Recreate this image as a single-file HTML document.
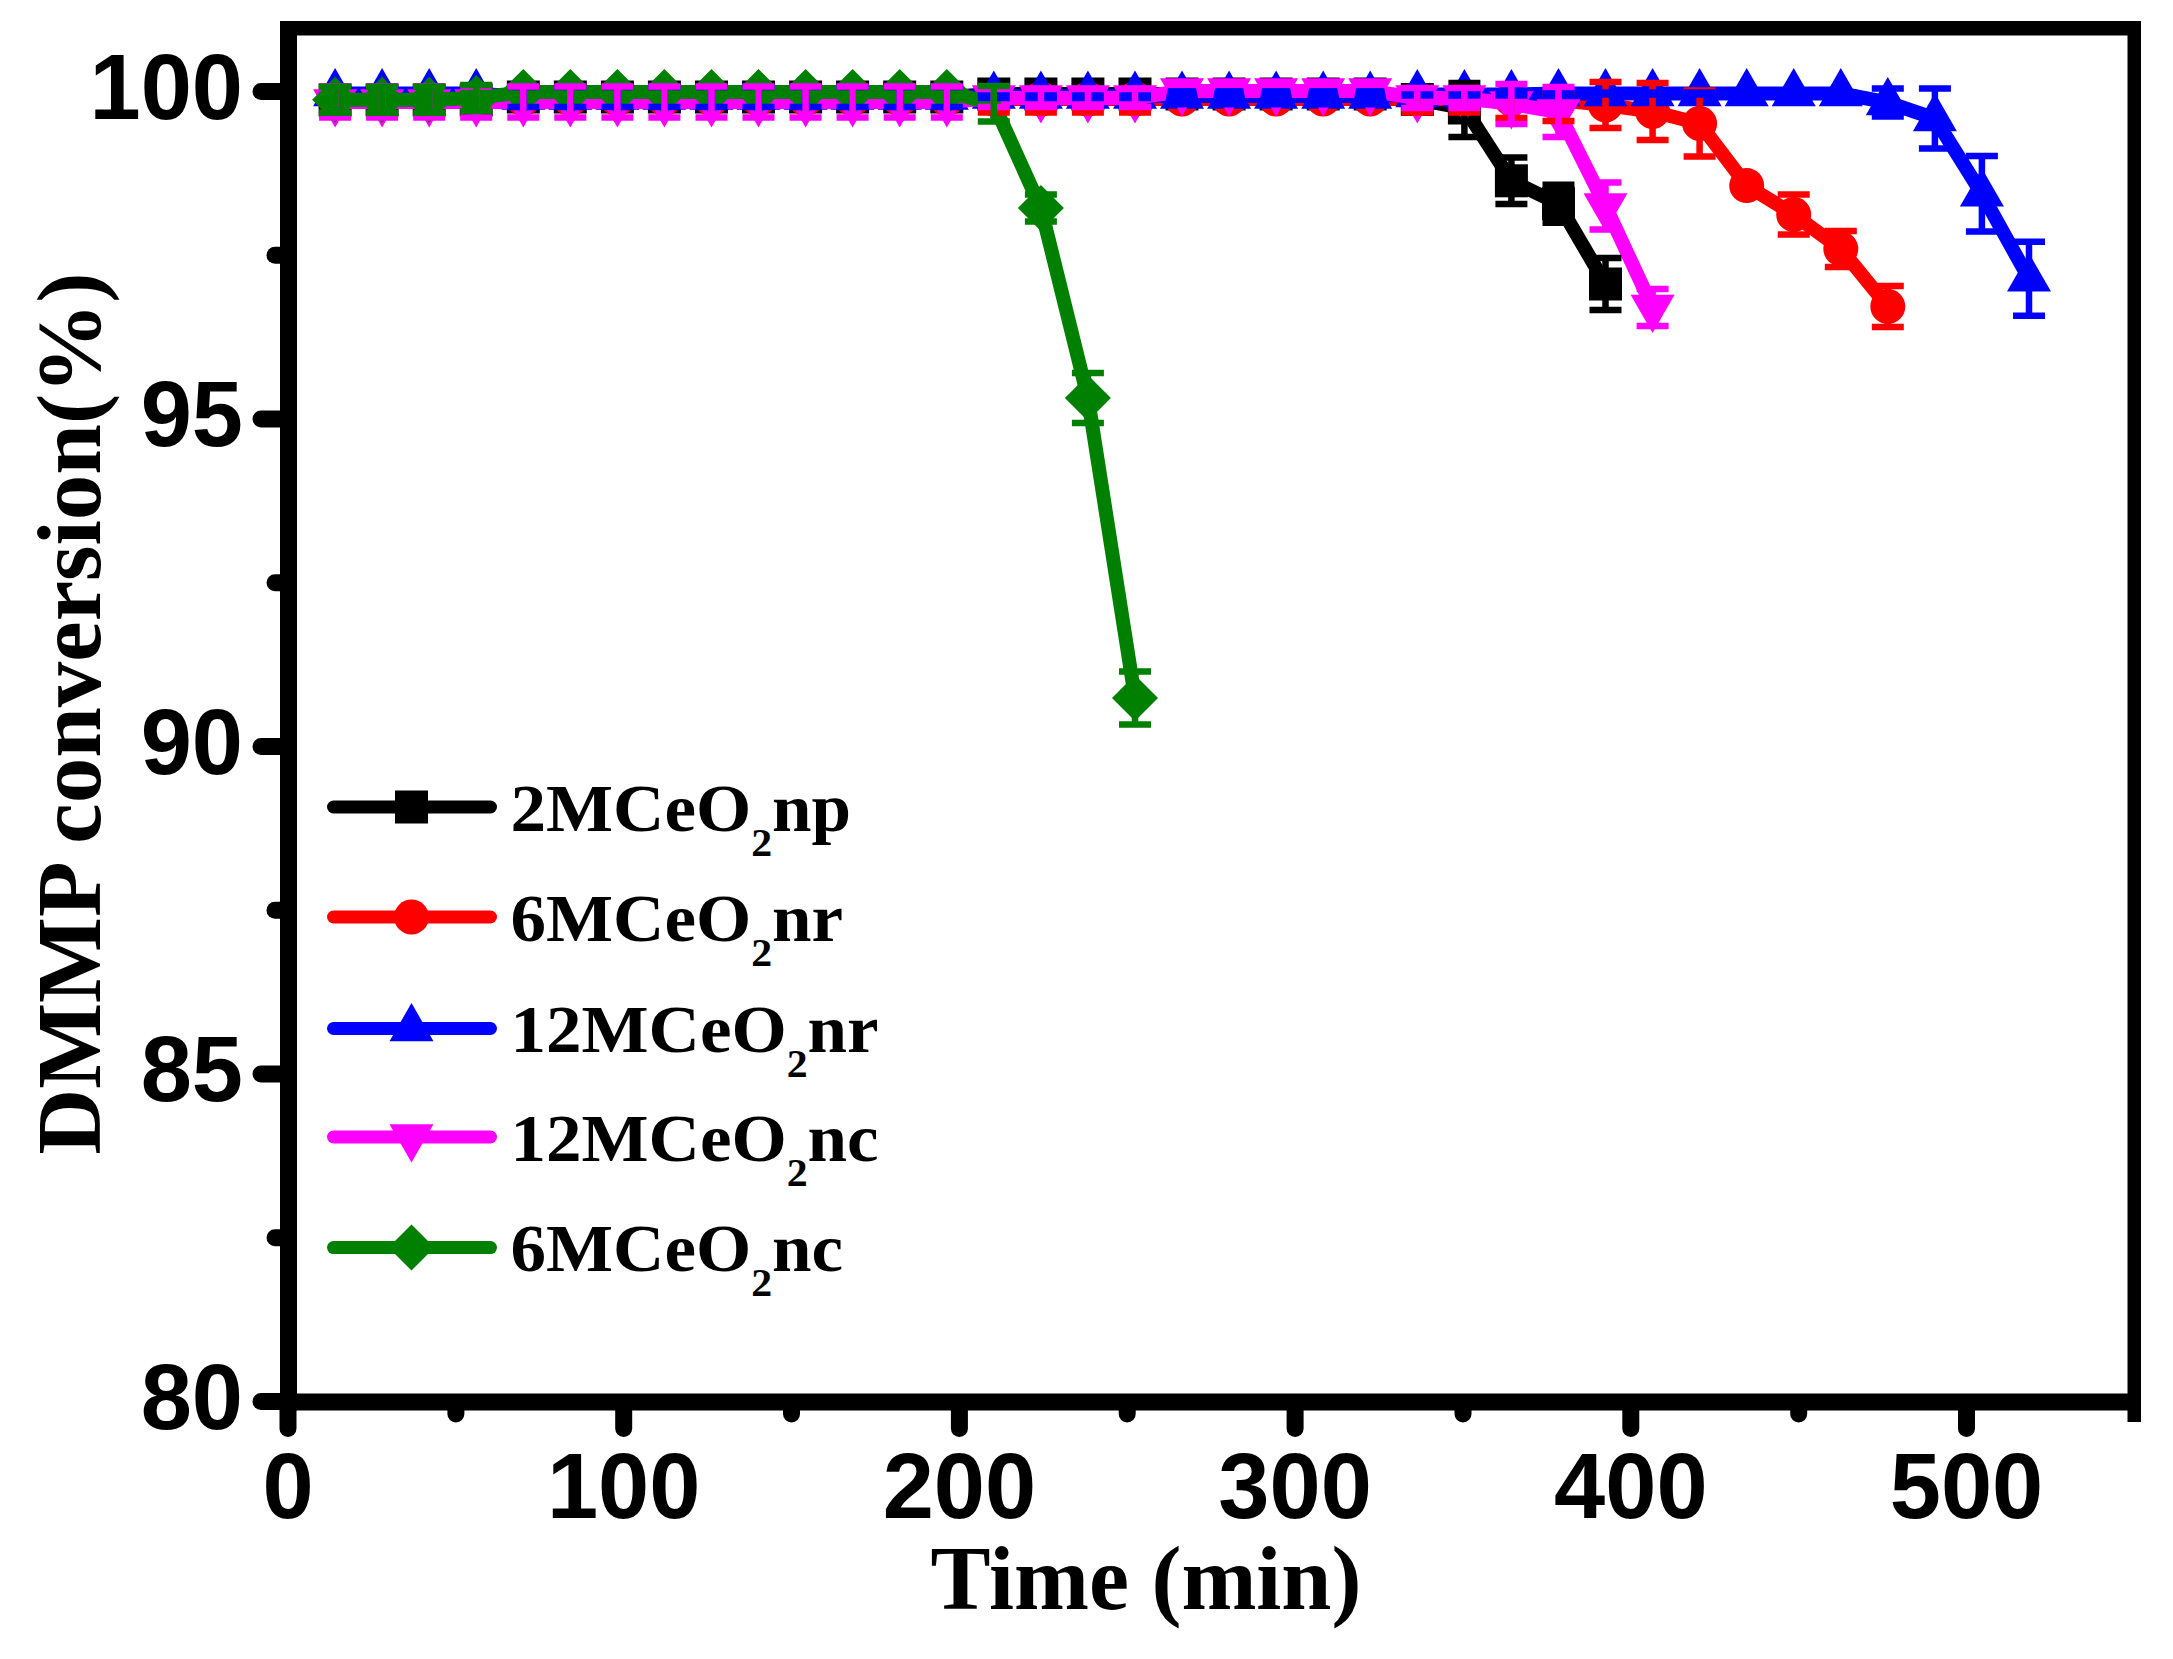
<!DOCTYPE html>
<html lang="en"><head><meta charset="utf-8"><title>DMMP conversion vs time</title>
<style>html,body{margin:0;padding:0;background:#fff}body{width:2173px;height:1659px;overflow:hidden}svg{display:block}.sans{font-family:"Liberation Sans",Arial,Helvetica,sans-serif;font-weight:bold}.serif{font-family:"Liberation Serif","Times New Roman",Times,serif;font-weight:bold}</style></head><body>
<svg width="2173" height="1659" viewBox="0 0 2173 1659">
<rect x="0" y="0" width="2173" height="1659" fill="#ffffff"/>
<g id="plot">
<g id="black">
<polyline fill="none" stroke="#000000" stroke-width="14" stroke-linejoin="round" stroke-linecap="round" points="335.1,100 382.1,100 429.2,100 476.2,100 523.3,97 570.3,97 617.4,97 664.4,97 711.5,97 758.5,97 805.6,97 852.6,97 899.7,97 946.8,97 993.8,94 1040.9,94 1087.9,94 1135,94 1182,94 1229.1,94 1276.1,94 1323.2,94 1370.2,94 1417.3,99.5 1464.4,108 1511.4,180.8 1558.5,203.7 1605.5,284"/>
<rect x="318.6" y="83.5" width="33" height="33" fill="#000000"/>
<rect x="365.6" y="83.5" width="33" height="33" fill="#000000"/>
<rect x="412.7" y="83.5" width="33" height="33" fill="#000000"/>
<rect x="459.7" y="83.5" width="33" height="33" fill="#000000"/>
<rect x="506.8" y="80.5" width="33" height="33" fill="#000000"/>
<rect x="553.8" y="80.5" width="33" height="33" fill="#000000"/>
<rect x="600.9" y="80.5" width="33" height="33" fill="#000000"/>
<rect x="647.9" y="80.5" width="33" height="33" fill="#000000"/>
<rect x="695" y="80.5" width="33" height="33" fill="#000000"/>
<rect x="742" y="80.5" width="33" height="33" fill="#000000"/>
<rect x="789.1" y="80.5" width="33" height="33" fill="#000000"/>
<rect x="836.1" y="80.5" width="33" height="33" fill="#000000"/>
<rect x="883.2" y="80.5" width="33" height="33" fill="#000000"/>
<rect x="930.3" y="80.5" width="33" height="33" fill="#000000"/>
<rect x="977.3" y="77.5" width="33" height="33" fill="#000000"/>
<rect x="1024.4" y="77.5" width="33" height="33" fill="#000000"/>
<rect x="1071.4" y="77.5" width="33" height="33" fill="#000000"/>
<rect x="1118.5" y="77.5" width="33" height="33" fill="#000000"/>
<rect x="1165.5" y="77.5" width="33" height="33" fill="#000000"/>
<rect x="1212.6" y="77.5" width="33" height="33" fill="#000000"/>
<rect x="1259.6" y="77.5" width="33" height="33" fill="#000000"/>
<rect x="1306.7" y="77.5" width="33" height="33" fill="#000000"/>
<rect x="1353.7" y="77.5" width="33" height="33" fill="#000000"/>
<rect x="1400.8" y="83" width="33" height="33" fill="#000000"/>
<rect x="1447.9" y="91.5" width="33" height="33" fill="#000000"/>
<rect x="1494.9" y="164.3" width="33" height="33" fill="#000000"/>
<rect x="1542" y="187.2" width="33" height="33" fill="#000000"/>
<rect x="1589" y="267.5" width="33" height="33" fill="#000000"/>
</g>
<g id="red">
<polyline fill="none" stroke="#ff0000" stroke-width="14" stroke-linejoin="round" stroke-linecap="round" points="335.1,99 382.1,99 429.2,99 476.2,99 523.3,99 570.3,99 617.4,99 664.4,99 711.5,99 758.5,99 805.6,99 852.6,99 899.7,99 946.8,99 993.8,99 1040.9,99 1087.9,99 1135,99 1182,99 1229.1,99 1276.1,99 1323.2,99 1370.2,99 1417.3,99 1464.4,99 1511.4,99 1558.5,100 1605.5,105 1652.6,111.5 1699.6,123.5 1746.7,185.6 1793.7,214.5 1840.8,248.9 1887.8,306.5"/>
<circle cx="335.1" cy="99" r="17.5" fill="#ff0000"/>
<circle cx="382.1" cy="99" r="17.5" fill="#ff0000"/>
<circle cx="429.2" cy="99" r="17.5" fill="#ff0000"/>
<circle cx="476.2" cy="99" r="17.5" fill="#ff0000"/>
<circle cx="523.3" cy="99" r="17.5" fill="#ff0000"/>
<circle cx="570.3" cy="99" r="17.5" fill="#ff0000"/>
<circle cx="617.4" cy="99" r="17.5" fill="#ff0000"/>
<circle cx="664.4" cy="99" r="17.5" fill="#ff0000"/>
<circle cx="711.5" cy="99" r="17.5" fill="#ff0000"/>
<circle cx="758.5" cy="99" r="17.5" fill="#ff0000"/>
<circle cx="805.6" cy="99" r="17.5" fill="#ff0000"/>
<circle cx="852.6" cy="99" r="17.5" fill="#ff0000"/>
<circle cx="899.7" cy="99" r="17.5" fill="#ff0000"/>
<circle cx="946.8" cy="99" r="17.5" fill="#ff0000"/>
<circle cx="993.8" cy="99" r="17.5" fill="#ff0000"/>
<circle cx="1040.9" cy="99" r="17.5" fill="#ff0000"/>
<circle cx="1087.9" cy="99" r="17.5" fill="#ff0000"/>
<circle cx="1135" cy="99" r="17.5" fill="#ff0000"/>
<circle cx="1182" cy="99" r="17.5" fill="#ff0000"/>
<circle cx="1229.1" cy="99" r="17.5" fill="#ff0000"/>
<circle cx="1276.1" cy="99" r="17.5" fill="#ff0000"/>
<circle cx="1323.2" cy="99" r="17.5" fill="#ff0000"/>
<circle cx="1370.2" cy="99" r="17.5" fill="#ff0000"/>
<circle cx="1417.3" cy="99" r="17.5" fill="#ff0000"/>
<circle cx="1464.4" cy="99" r="17.5" fill="#ff0000"/>
<circle cx="1511.4" cy="99" r="17.5" fill="#ff0000"/>
<circle cx="1558.5" cy="100" r="17.5" fill="#ff0000"/>
<circle cx="1605.5" cy="105" r="17.5" fill="#ff0000"/>
<circle cx="1652.6" cy="111.5" r="17.5" fill="#ff0000"/>
<circle cx="1699.6" cy="123.5" r="17.5" fill="#ff0000"/>
<circle cx="1746.7" cy="185.6" r="17.5" fill="#ff0000"/>
<circle cx="1793.7" cy="214.5" r="17.5" fill="#ff0000"/>
<circle cx="1840.8" cy="248.9" r="17.5" fill="#ff0000"/>
<circle cx="1887.8" cy="306.5" r="17.5" fill="#ff0000"/>
</g>
<g id="blue">
<polyline fill="none" stroke="#0000ff" stroke-width="14" stroke-linejoin="round" stroke-linecap="round" points="335.1,93.5 382.1,93.5 429.2,93.5 476.2,93.5 523.3,97 570.3,97 617.4,97 664.4,97 711.5,97 758.5,97 805.6,97 852.6,97 899.7,97 946.8,97 993.8,96 1040.9,96 1087.9,96 1135,96 1182,96 1229.1,96 1276.1,96 1323.2,96 1370.2,96 1417.3,94.5 1464.4,94.5 1511.4,94.5 1558.5,93.5 1605.5,93.5 1652.6,93.5 1699.6,93.5 1746.7,93.5 1793.7,93.5 1840.8,93.5 1887.8,102.5 1934.9,118.5 1981.9,193.8 2029,278.7"/>
<polygon points="335.1,68 357.1,106.3 313.1,106.3" fill="#0000ff"/>
<polygon points="382.1,68 404.1,106.3 360.1,106.3" fill="#0000ff"/>
<polygon points="429.2,68 451.2,106.3 407.2,106.3" fill="#0000ff"/>
<polygon points="476.2,68 498.2,106.3 454.2,106.3" fill="#0000ff"/>
<polygon points="523.3,71.5 545.3,109.8 501.3,109.8" fill="#0000ff"/>
<polygon points="570.3,71.5 592.3,109.8 548.3,109.8" fill="#0000ff"/>
<polygon points="617.4,71.5 639.4,109.8 595.4,109.8" fill="#0000ff"/>
<polygon points="664.4,71.5 686.4,109.8 642.4,109.8" fill="#0000ff"/>
<polygon points="711.5,71.5 733.5,109.8 689.5,109.8" fill="#0000ff"/>
<polygon points="758.5,71.5 780.5,109.8 736.5,109.8" fill="#0000ff"/>
<polygon points="805.6,71.5 827.6,109.8 783.6,109.8" fill="#0000ff"/>
<polygon points="852.6,71.5 874.6,109.8 830.6,109.8" fill="#0000ff"/>
<polygon points="899.7,71.5 921.7,109.8 877.7,109.8" fill="#0000ff"/>
<polygon points="946.8,71.5 968.8,109.8 924.8,109.8" fill="#0000ff"/>
<polygon points="993.8,70.5 1015.8,108.8 971.8,108.8" fill="#0000ff"/>
<polygon points="1040.9,70.5 1062.9,108.8 1018.9,108.8" fill="#0000ff"/>
<polygon points="1087.9,70.5 1109.9,108.8 1065.9,108.8" fill="#0000ff"/>
<polygon points="1135,70.5 1157,108.8 1113,108.8" fill="#0000ff"/>
<polygon points="1182,70.5 1204,108.8 1160,108.8" fill="#0000ff"/>
<polygon points="1229.1,70.5 1251.1,108.8 1207.1,108.8" fill="#0000ff"/>
<polygon points="1276.1,70.5 1298.1,108.8 1254.1,108.8" fill="#0000ff"/>
<polygon points="1323.2,70.5 1345.2,108.8 1301.2,108.8" fill="#0000ff"/>
<polygon points="1370.2,70.5 1392.2,108.8 1348.2,108.8" fill="#0000ff"/>
<polygon points="1417.3,69 1439.3,107.3 1395.3,107.3" fill="#0000ff"/>
<polygon points="1464.4,69 1486.4,107.3 1442.4,107.3" fill="#0000ff"/>
<polygon points="1511.4,69 1533.4,107.3 1489.4,107.3" fill="#0000ff"/>
<polygon points="1558.5,68 1580.5,106.3 1536.5,106.3" fill="#0000ff"/>
<polygon points="1605.5,68 1627.5,106.3 1583.5,106.3" fill="#0000ff"/>
<polygon points="1652.6,68 1674.6,106.3 1630.6,106.3" fill="#0000ff"/>
<polygon points="1699.6,68 1721.6,106.3 1677.6,106.3" fill="#0000ff"/>
<polygon points="1746.7,68 1768.7,106.3 1724.7,106.3" fill="#0000ff"/>
<polygon points="1793.7,68 1815.7,106.3 1771.7,106.3" fill="#0000ff"/>
<polygon points="1840.8,68 1862.8,106.3 1818.8,106.3" fill="#0000ff"/>
<polygon points="1887.8,77 1909.8,115.3 1865.8,115.3" fill="#0000ff"/>
<polygon points="1934.9,93 1956.9,131.3 1912.9,131.3" fill="#0000ff"/>
<polygon points="1981.9,168.3 2003.9,206.6 1959.9,206.6" fill="#0000ff"/>
<polygon points="2029,253.2 2051,291.5 2007,291.5" fill="#0000ff"/>
</g>
<g id="magenta">
<polyline fill="none" stroke="#ff00ff" stroke-width="14" stroke-linejoin="round" stroke-linecap="round" points="335.1,102 382.1,102 429.2,102 476.2,102 523.3,102 570.3,102 617.4,102 664.4,102 711.5,102 758.5,102 805.6,102 852.6,102 899.7,102 946.8,102 993.8,98 1040.9,98 1087.9,98 1135,98 1182,91 1229.1,91 1276.1,91 1323.2,91 1370.2,91 1417.3,98 1464.4,98 1511.4,104 1558.5,112 1605.5,206 1652.6,307.5"/>
<polygon points="335.1,127.5 357.1,89.2 313.1,89.2" fill="#ff00ff"/>
<polygon points="382.1,127.5 404.1,89.2 360.1,89.2" fill="#ff00ff"/>
<polygon points="429.2,127.5 451.2,89.2 407.2,89.2" fill="#ff00ff"/>
<polygon points="476.2,127.5 498.2,89.2 454.2,89.2" fill="#ff00ff"/>
<polygon points="523.3,127.5 545.3,89.2 501.3,89.2" fill="#ff00ff"/>
<polygon points="570.3,127.5 592.3,89.2 548.3,89.2" fill="#ff00ff"/>
<polygon points="617.4,127.5 639.4,89.2 595.4,89.2" fill="#ff00ff"/>
<polygon points="664.4,127.5 686.4,89.2 642.4,89.2" fill="#ff00ff"/>
<polygon points="711.5,127.5 733.5,89.2 689.5,89.2" fill="#ff00ff"/>
<polygon points="758.5,127.5 780.5,89.2 736.5,89.2" fill="#ff00ff"/>
<polygon points="805.6,127.5 827.6,89.2 783.6,89.2" fill="#ff00ff"/>
<polygon points="852.6,127.5 874.6,89.2 830.6,89.2" fill="#ff00ff"/>
<polygon points="899.7,127.5 921.7,89.2 877.7,89.2" fill="#ff00ff"/>
<polygon points="946.8,127.5 968.8,89.2 924.8,89.2" fill="#ff00ff"/>
<polygon points="993.8,123.5 1015.8,85.2 971.8,85.2" fill="#ff00ff"/>
<polygon points="1040.9,123.5 1062.9,85.2 1018.9,85.2" fill="#ff00ff"/>
<polygon points="1087.9,123.5 1109.9,85.2 1065.9,85.2" fill="#ff00ff"/>
<polygon points="1135,123.5 1157,85.2 1113,85.2" fill="#ff00ff"/>
<polygon points="1182,116.5 1204,78.2 1160,78.2" fill="#ff00ff"/>
<polygon points="1229.1,116.5 1251.1,78.2 1207.1,78.2" fill="#ff00ff"/>
<polygon points="1276.1,116.5 1298.1,78.2 1254.1,78.2" fill="#ff00ff"/>
<polygon points="1323.2,116.5 1345.2,78.2 1301.2,78.2" fill="#ff00ff"/>
<polygon points="1370.2,116.5 1392.2,78.2 1348.2,78.2" fill="#ff00ff"/>
<polygon points="1417.3,123.5 1439.3,85.2 1395.3,85.2" fill="#ff00ff"/>
<polygon points="1464.4,123.5 1486.4,85.2 1442.4,85.2" fill="#ff00ff"/>
<polygon points="1511.4,129.5 1533.4,91.2 1489.4,91.2" fill="#ff00ff"/>
<polygon points="1558.5,137.5 1580.5,99.2 1536.5,99.2" fill="#ff00ff"/>
<polygon points="1605.5,231.5 1627.5,193.2 1583.5,193.2" fill="#ff00ff"/>
<polygon points="1652.6,333 1674.6,294.7 1630.6,294.7" fill="#ff00ff"/>
</g>
<g id="green">
<polyline fill="none" stroke="#008000" stroke-width="14" stroke-linejoin="round" stroke-linecap="round" points="335.1,99.8 382.1,99.8 429.2,99.8 476.2,98 523.3,92 570.3,92 617.4,92 664.4,92 711.5,92 758.5,92 805.6,92 852.6,92 899.7,92 946.8,92 993.8,103.8 1040.9,208 1087.9,397.9 1135,698"/>
<polygon points="335.1,76.8 358.1,99.8 335.1,122.8 312.1,99.8" fill="#008000"/>
<polygon points="382.1,76.8 405.1,99.8 382.1,122.8 359.1,99.8" fill="#008000"/>
<polygon points="429.2,76.8 452.2,99.8 429.2,122.8 406.2,99.8" fill="#008000"/>
<polygon points="476.2,75 499.2,98 476.2,121 453.2,98" fill="#008000"/>
<polygon points="523.3,69 546.3,92 523.3,115 500.3,92" fill="#008000"/>
<polygon points="570.3,69 593.3,92 570.3,115 547.3,92" fill="#008000"/>
<polygon points="617.4,69 640.4,92 617.4,115 594.4,92" fill="#008000"/>
<polygon points="664.4,69 687.4,92 664.4,115 641.4,92" fill="#008000"/>
<polygon points="711.5,69 734.5,92 711.5,115 688.5,92" fill="#008000"/>
<polygon points="758.5,69 781.5,92 758.5,115 735.5,92" fill="#008000"/>
<polygon points="805.6,69 828.6,92 805.6,115 782.6,92" fill="#008000"/>
<polygon points="852.6,69 875.6,92 852.6,115 829.6,92" fill="#008000"/>
<polygon points="899.7,69 922.7,92 899.7,115 876.7,92" fill="#008000"/>
<polygon points="946.8,69 969.8,92 946.8,115 923.8,92" fill="#008000"/>
<polygon points="1040.9,185 1063.9,208 1040.9,231 1017.9,208" fill="#008000"/>
<polygon points="1087.9,374.9 1110.9,397.9 1087.9,420.9 1064.9,397.9" fill="#008000"/>
<polygon points="1135,675 1158,698 1135,721 1112,698" fill="#008000"/>
</g>
<polygon fill="#0000ff" points="1168,88 1196,88 1200,107.5 1164,107.5"/>
<polygon fill="#0000ff" points="1215.1,88 1243.1,88 1247.1,107.5 1211.1,107.5"/>
<polygon fill="#0000ff" points="1262.1,88 1290.1,88 1294.1,107.5 1258.1,107.5"/>
<polygon fill="#0000ff" points="1309.2,88 1337.2,88 1341.2,107.5 1305.2,107.5"/>
<polygon fill="#0000ff" points="1356.2,88 1384.2,88 1388.2,107.5 1352.2,107.5"/>
<path id="black-err" fill="none" stroke="#000000" stroke-width="6.5" d="M1464.4 83V137M1448.4 83H1480.4M1448.4 137H1480.4M1511.4 157.5V204.1M1495.4 157.5H1527.4M1495.4 204.1H1527.4M1558.5 184.7V222.7M1542.5 184.7H1574.5M1542.5 222.7H1574.5M1605.5 258V310M1589.5 258H1621.5M1589.5 310H1621.5"/>
<path id="red-err" fill="none" stroke="#ff0000" stroke-width="6.5" d="M993.8 93V112.5M977.8 93H1009.8M977.8 112.5H1009.8M1040.9 93V112.5M1024.9 93H1056.9M1024.9 112.5H1056.9M1087.9 93V112.5M1071.9 93H1103.9M1071.9 112.5H1103.9M1135 93V112.5M1119 93H1151M1119 112.5H1151M1417.3 94V112.5M1401.3 94H1433.3M1401.3 112.5H1433.3M1464.4 94V112.5M1448.4 94H1480.4M1448.4 112.5H1480.4M1511.4 94V118M1495.4 94H1527.4M1495.4 118H1527.4M1558.5 94V121M1542.5 94H1574.5M1542.5 121H1574.5M1605.5 82V128M1589.5 82H1621.5M1589.5 128H1621.5M1652.6 83V140M1636.6 83H1668.6M1636.6 140H1668.6M1699.6 90.5V156.5M1683.6 90.5H1715.6M1683.6 156.5H1715.6M1793.7 194.5V234.5M1777.7 194.5H1809.7M1777.7 234.5H1809.7M1840.8 230.9V266.9M1824.8 230.9H1856.8M1824.8 266.9H1856.8M1887.8 286V327M1871.8 286H1903.8M1871.8 327H1903.8"/>
<path id="blue-err" fill="none" stroke="#0000ff" stroke-width="6.5" d="M523.3 87V107M507.3 87H539.3M507.3 107H539.3M570.3 87V107M554.3 87H586.3M554.3 107H586.3M617.4 87V107M601.4 87H633.4M601.4 107H633.4M664.4 87V107M648.4 87H680.4M648.4 107H680.4M711.5 87V107M695.5 87H727.5M695.5 107H727.5M758.5 87V107M742.5 87H774.5M742.5 107H774.5M805.6 87V107M789.6 87H821.6M789.6 107H821.6M852.6 87V107M836.6 87H868.6M836.6 107H868.6M899.7 87V107M883.7 87H915.7M883.7 107H915.7M946.8 87V107M930.8 87H962.8M930.8 107H962.8M993.8 94V98M977.8 94H1009.8M977.8 98H1009.8M1040.9 94V98M1024.9 94H1056.9M1024.9 98H1056.9M1087.9 94V98M1071.9 94H1103.9M1071.9 98H1103.9M1135 94V98M1119 94H1151M1119 98H1151M1417.3 93.5V95.5M1401.3 93.5H1433.3M1401.3 95.5H1433.3M1464.4 93.5V95.5M1448.4 93.5H1480.4M1448.4 95.5H1480.4M1511.4 93.5V95.5M1495.4 93.5H1527.4M1495.4 95.5H1527.4M1558.5 92.5V94.5M1542.5 92.5H1574.5M1542.5 94.5H1574.5M1605.5 92.5V94.5M1589.5 92.5H1621.5M1589.5 94.5H1621.5M1652.6 92.5V94.5M1636.6 92.5H1668.6M1636.6 94.5H1668.6M1699.6 92.5V94.5M1683.6 92.5H1715.6M1683.6 94.5H1715.6M1746.7 92.5V94.5M1730.7 92.5H1762.7M1730.7 94.5H1762.7M1793.7 92.5V94.5M1777.7 92.5H1809.7M1777.7 94.5H1809.7M1840.8 92.5V94.5M1824.8 92.5H1856.8M1824.8 94.5H1856.8M1887.8 88.5V116.5M1871.8 88.5H1903.8M1871.8 116.5H1903.8M1934.9 88.5V148.5M1918.9 88.5H1950.9M1918.9 148.5H1950.9M1981.9 156.1V231.5M1965.9 156.1H1997.9M1965.9 231.5H1997.9M2029 241.7V315.7M2013 241.7H2045M2013 315.7H2045"/>
<path id="magenta-err" fill="none" stroke="#ff00ff" stroke-width="6.5" d="M335.1 86.5V117.5M319.1 86.5H351.1M319.1 117.5H351.1M382.1 86.5V117.5M366.1 86.5H398.1M366.1 117.5H398.1M429.2 86.5V117.5M413.2 86.5H445.2M413.2 117.5H445.2M476.2 86.5V117.5M460.2 86.5H492.2M460.2 117.5H492.2M523.3 86.5V117.5M507.3 86.5H539.3M507.3 117.5H539.3M570.3 86.5V117.5M554.3 86.5H586.3M554.3 117.5H586.3M617.4 86.5V117.5M601.4 86.5H633.4M601.4 117.5H633.4M664.4 86.5V117.5M648.4 86.5H680.4M648.4 117.5H680.4M711.5 86.5V117.5M695.5 86.5H727.5M695.5 117.5H727.5M758.5 86.5V117.5M742.5 86.5H774.5M742.5 117.5H774.5M805.6 86.5V117.5M789.6 86.5H821.6M789.6 117.5H821.6M852.6 86.5V117.5M836.6 86.5H868.6M836.6 117.5H868.6M899.7 86.5V117.5M883.7 86.5H915.7M883.7 117.5H915.7M946.8 86.5V117.5M930.8 86.5H962.8M930.8 117.5H962.8M993.8 89V107M977.8 89H1009.8M977.8 107H1009.8M1040.9 89V107M1024.9 89H1056.9M1024.9 107H1056.9M1087.9 89V107M1071.9 89H1103.9M1071.9 107H1103.9M1135 89V107M1119 89H1151M1119 107H1151M1417.3 88V108M1401.3 88H1433.3M1401.3 108H1433.3M1464.4 88V108M1448.4 88H1480.4M1448.4 108H1480.4M1511.4 84V124M1495.4 84H1527.4M1495.4 124H1527.4M1558.5 87V137M1542.5 87H1574.5M1542.5 137H1574.5M1605.5 182.5V229.5M1589.5 182.5H1621.5M1589.5 229.5H1621.5M1652.6 289V326M1636.6 289H1668.6M1636.6 326H1668.6"/>
<path id="green-err" fill="none" stroke="#008000" stroke-width="6.5" d="M335.1 86.8V112.8M319.1 86.8H351.1M319.1 112.8H351.1M382.1 86.8V112.8M366.1 86.8H398.1M366.1 112.8H398.1M429.2 86.8V112.8M413.2 86.8H445.2M413.2 112.8H445.2M476.2 85V111M460.2 85H492.2M460.2 111H492.2M993.8 86V121.6M977.8 86H1009.8M977.8 121.6H1009.8M1040.9 194.5V221.5M1024.9 194.5H1056.9M1024.9 221.5H1056.9M1087.9 372.9V422.9M1071.9 372.9H1103.9M1071.9 422.9H1103.9M1135 671.4V724.6M1119 671.4H1151M1119 724.6H1151"/>
</g>
<g id="frame" fill="#000">
<rect x="280" y="21" width="17" height="1389.5"/>
<rect x="280" y="1393.5" width="1861" height="17"/>
<rect x="280" y="21" width="1861" height="14.5"/>
<rect x="2127.5" y="21" width="13.5" height="1401"/>
</g>
<g id="ticks" stroke="#000" stroke-linecap="round" fill="none">
<line x1="261" y1="91.5" x2="285" y2="91.5" stroke-width="17"/>
<line x1="261" y1="419" x2="285" y2="419" stroke-width="17"/>
<line x1="261" y1="746.5" x2="285" y2="746.5" stroke-width="17"/>
<line x1="261" y1="1074" x2="285" y2="1074" stroke-width="17"/>
<line x1="261" y1="1401.5" x2="285" y2="1401.5" stroke-width="17"/>
<line x1="275" y1="255.2" x2="285" y2="255.2" stroke-width="17"/>
<line x1="275" y1="582.8" x2="285" y2="582.8" stroke-width="17"/>
<line x1="275" y1="910.2" x2="285" y2="910.2" stroke-width="17"/>
<line x1="275" y1="1237.8" x2="285" y2="1237.8" stroke-width="17"/>
<line x1="288" y1="1405" x2="288" y2="1428.5" stroke-width="17"/>
<line x1="623.7" y1="1405" x2="623.7" y2="1428.5" stroke-width="17"/>
<line x1="959.4" y1="1405" x2="959.4" y2="1428.5" stroke-width="17"/>
<line x1="1295.1" y1="1405" x2="1295.1" y2="1428.5" stroke-width="17"/>
<line x1="1630.8" y1="1405" x2="1630.8" y2="1428.5" stroke-width="17"/>
<line x1="1966.5" y1="1405" x2="1966.5" y2="1428.5" stroke-width="17"/>
<line x1="455.9" y1="1405" x2="455.9" y2="1414" stroke-width="17"/>
<line x1="791.5" y1="1405" x2="791.5" y2="1414" stroke-width="17"/>
<line x1="1127.2" y1="1405" x2="1127.2" y2="1414" stroke-width="17"/>
<line x1="1463" y1="1405" x2="1463" y2="1414" stroke-width="17"/>
<line x1="1798.7" y1="1405" x2="1798.7" y2="1414" stroke-width="17"/>
</g>
<g id="ticklabels" class="sans" font-size="92" fill="#000">
<text x="243" y="118.5" text-anchor="end">100</text>
<text x="243" y="446" text-anchor="end">95</text>
<text x="243" y="773.5" text-anchor="end">90</text>
<text x="243" y="1101" text-anchor="end">85</text>
<text x="243" y="1428.5" text-anchor="end">80</text>
<text x="288" y="1517.5" text-anchor="middle">0</text>
<text x="623.7" y="1517.5" text-anchor="middle">100</text>
<text x="959.4" y="1517.5" text-anchor="middle">200</text>
<text x="1295.1" y="1517.5" text-anchor="middle">300</text>
<text x="1630.8" y="1517.5" text-anchor="middle">400</text>
<text x="1966.5" y="1517.5" text-anchor="middle">500</text>
</g>
<g id="titles" class="serif" fill="#000">
<text x="1146" y="1609" font-size="90" text-anchor="middle">Time (min)</text>
<text transform="translate(99.5 713.5) rotate(-90)" font-size="91" text-anchor="middle">DMMP conversion(%)</text>
</g>
<g id="legend">
<line x1="333.5" y1="807" x2="490.5" y2="807" stroke="#000000" stroke-width="13" stroke-linecap="round"/>
<rect x="395" y="790.5" width="33" height="33" fill="#000000"/>
<text class="serif" transform="translate(510.5 830.5) scale(1.045 1)" font-size="68" fill="#000">2MCeO<tspan font-size="40" dy="25">2</tspan><tspan dy="-25">np</tspan></text>
<line x1="333.5" y1="917" x2="490.5" y2="917" stroke="#ff0000" stroke-width="13" stroke-linecap="round"/>
<circle cx="411.5" cy="917" r="17.5" fill="#ff0000"/>
<text class="serif" transform="translate(510.5 940.5) scale(1.045 1)" font-size="68" fill="#000">6MCeO<tspan font-size="40" dy="25">2</tspan><tspan dy="-25">nr</tspan></text>
<line x1="333.5" y1="1028.5" x2="490.5" y2="1028.5" stroke="#0000ff" stroke-width="13" stroke-linecap="round"/>
<polygon points="411.5,1003 433.5,1041.3 389.5,1041.3" fill="#0000ff"/>
<text class="serif" transform="translate(510.5 1052) scale(1.045 1)" font-size="68" fill="#000">12MCeO<tspan font-size="40" dy="25">2</tspan><tspan dy="-25">nr</tspan></text>
<line x1="333.5" y1="1137" x2="490.5" y2="1137" stroke="#ff00ff" stroke-width="13" stroke-linecap="round"/>
<polygon points="411.5,1162.5 433.5,1124.2 389.5,1124.2" fill="#ff00ff"/>
<text class="serif" transform="translate(510.5 1160.5) scale(1.045 1)" font-size="68" fill="#000">12MCeO<tspan font-size="40" dy="25">2</tspan><tspan dy="-25">nc</tspan></text>
<line x1="333.5" y1="1247.6" x2="490.5" y2="1247.6" stroke="#008000" stroke-width="13" stroke-linecap="round"/>
<polygon points="411.5,1224.6 434.5,1247.6 411.5,1270.6 388.5,1247.6" fill="#008000"/>
<text class="serif" transform="translate(510.5 1271.1) scale(1.045 1)" font-size="68" fill="#000">6MCeO<tspan font-size="40" dy="25">2</tspan><tspan dy="-25">nc</tspan></text>
</g>
</svg></body></html>
